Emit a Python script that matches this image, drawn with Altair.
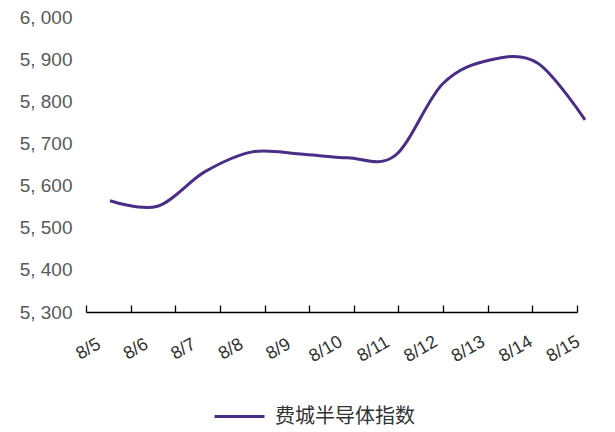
import altair as alt
import pandas as pd

dates = ["8/5", "8/6", "8/7", "8/8", "8/9", "8/10", "8/11", "8/12", "8/13", "8/14", "8/15"]
values = [5564, 5551, 5633, 5680, 5675, 5666, 5671, 5841, 5898, 5891, 5756]
series_name = "费城半导体指数"
y_ticks = [5300, 5400, 5500, 5600, 5700, 5800, 5900, 6000]

W, H = 491, 295
LINE_COLOR = "#4A2D85"

line_df = pd.DataFrame({
    "idx": list(range(len(dates))),
    "date": dates,
    "value": values,
    "series": [series_name] * len(dates),
})
cat_df = pd.DataFrame({"date": dates})

label_expr = "[" + ",".join("'%s'" % d for d in dates) + "][datum.value]"

# Tick/domain layer: band scale, ticks at band extents, pointing upward
tick_layer = alt.Chart(cat_df).mark_point(opacity=0).encode(
    x=alt.X(
        "date:N",
        sort=dates,
        scale=alt.Scale(type="band", domain=dates, paddingInner=0, paddingOuter=0),
        axis=alt.Axis(
            orient="top", offset=-H, labels=False, tickBand="extent",
            tickSize=7, tickColor="#000000", tickWidth=1.3,
            domainColor="#000000", domainWidth=1.3, grid=False, title=None,
        ),
    )
)

line = alt.Chart(line_df).mark_line(
    interpolate="cardinal", strokeWidth=3, clip=False
).encode(
    x=alt.X(
        "idx:Q",
        scale=alt.Scale(domain=[0, len(dates) - 1], range=[24, 499], nice=False, zero=False),
        axis=alt.Axis(
            values=list(range(len(dates))), labelExpr=label_expr,
            domain=False, ticks=False, grid=False, title=None,
            labelAngle=330, labelAlign="center", labelBaseline="middle",
            labelOffset=-22, labelPadding=37, labelFontSize=18,
            labelFont="Liberation Sans", labelColor="#333333",
        ),
    ),
    y=alt.Y(
        "value:Q",
        scale=alt.Scale(domain=[5300, 6000], nice=False, zero=False),
        axis=alt.Axis(
            values=y_ticks, domain=False, ticks=False, grid=False, title=None,
            labelExpr="replace(format(datum.value, ','), ',', ', ')",
            labelFontSize=19, labelFont="Liberation Sans", labelColor="#595959",
            labelPadding=14,
        ),
    ),
    color=alt.Color(
        "series:N",
        scale=alt.Scale(range=[LINE_COLOR]),
        legend=alt.Legend(
            title=None, orient="none", legendX=127, legendY=373,
            symbolType="stroke", symbolSize=2500, symbolStrokeWidth=3,
            labelFontSize=20, labelFont="Noto Sans CJK SC", labelColor="#333333",
            labelOffset=9,
        ),
    ),
)

chart = alt.layer(tick_layer, line).resolve_scale(x="independent").resolve_axis(
    x="independent"
).properties(
    width=W, height=H,
    padding={"left": 78, "top": 9, "right": 30, "bottom": 115},
    autosize=alt.AutoSizeParams(type="none"),
    background="white",
).configure_view(stroke=None)

chart.save("out.html", embed_options={"renderer": "svg", "actions": False})
